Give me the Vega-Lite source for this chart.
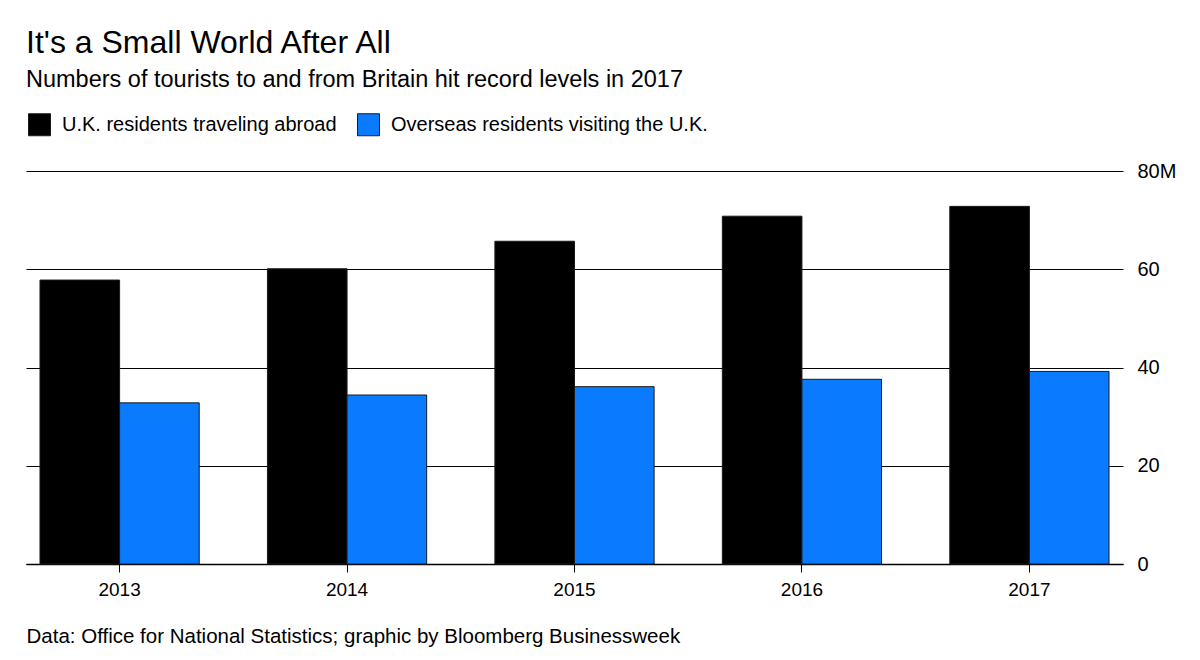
{
  "$schema": "https://vega.github.io/schema/vega-lite/v6.json",
  "width": 1097,
  "height": 393,
  "autosize": {"type": "none"},
  "padding": {"left": 26, "top": 171, "right": 77, "bottom": 96},
  "background": "white",
  "title": {
    "text": "It's a Small World After All",
    "subtitle": "Numbers of tourists to and from Britain hit record levels in 2017",
    "anchor": "start",
    "frame": "group",
    "fontSize": 32,
    "fontWeight": "normal",
    "color": "#000000",
    "subtitleFontSize": 23.5,
    "subtitleColor": "#000000",
    "subtitlePadding": 8,
    "offset": 21
  },
  "data": {
    "values": [
      {"year": "2013", "series": "U.K. residents traveling abroad", "visitors": 57.8},
      {"year": "2013", "series": "Overseas residents visiting the U.K.", "visitors": 32.8},
      {"year": "2014", "series": "U.K. residents traveling abroad", "visitors": 60.1},
      {"year": "2014", "series": "Overseas residents visiting the U.K.", "visitors": 34.4},
      {"year": "2015", "series": "U.K. residents traveling abroad", "visitors": 65.7},
      {"year": "2015", "series": "Overseas residents visiting the U.K.", "visitors": 36.1},
      {"year": "2016", "series": "U.K. residents traveling abroad", "visitors": 70.8},
      {"year": "2016", "series": "Overseas residents visiting the U.K.", "visitors": 37.6},
      {"year": "2017", "series": "U.K. residents traveling abroad", "visitors": 72.8},
      {"year": "2017", "series": "Overseas residents visiting the U.K.", "visitors": 39.2}
    ]
  },
  "mark": {"type": "bar", "stroke": "#1a1a1a", "strokeWidth": 1},
  "encoding": {
    "x": {
      "field": "year",
      "type": "nominal",
      "scale": {"paddingInner": 0.3, "paddingOuter": 0.0615},
      "axis": {
        "title": "Data: Office for National Statistics; graphic by Bloomberg Businessweek",
        "titleAnchor": "start",
        "titleFontSize": 20.5,
        "titleFontWeight": "normal",
        "titleColor": "#000000",
        "titlePadding": 27,
        "labelAngle": 0,
        "labelFontSize": 19,
        "labelColor": "#000000",
        "labelPadding": 8,
        "tickSize": 8,
        "tickColor": "#000000",
        "domainColor": "#000000",
        "domainWidth": 1.5
      }
    },
    "xOffset": {
      "field": "series",
      "type": "nominal",
      "sort": ["U.K. residents traveling abroad", "Overseas residents visiting the U.K."]
    },
    "y": {
      "field": "visitors",
      "type": "quantitative",
      "scale": {"domain": [0, 80]},
      "axis": {
        "orient": "right",
        "title": null,
        "values": [0, 20, 40, 60, 80],
        "labelExpr": "datum.value == 80 ? '80M' : datum.label",
        "domain": false,
        "ticks": false,
        "labelPadding": 14,
        "labelFontSize": 20,
        "labelColor": "#000000",
        "gridColor": "#000000",
        "gridWidth": 1.2
      }
    },
    "color": {
      "field": "series",
      "type": "nominal",
      "scale": {
        "domain": ["U.K. residents traveling abroad", "Overseas residents visiting the U.K."],
        "range": ["#000000", "#0a7bff"]
      },
      "legend": {
        "title": null,
        "orient": "none",
        "legendX": 2,
        "legendY": -58,
        "direction": "horizontal",
        "symbolType": "square",
        "symbolSize": 484,
        "symbolStrokeWidth": 1,
        "symbolStrokeColor": "#1a1a1a",
        "labelFontSize": 20,
        "labelColor": "#000000",
        "labelLimit": 0,
        "labelOffset": 11,
        "columnPadding": 18
      }
    }
  },
  "config": {
    "font": "Liberation Sans",
    "view": {"stroke": null}
  }
}
